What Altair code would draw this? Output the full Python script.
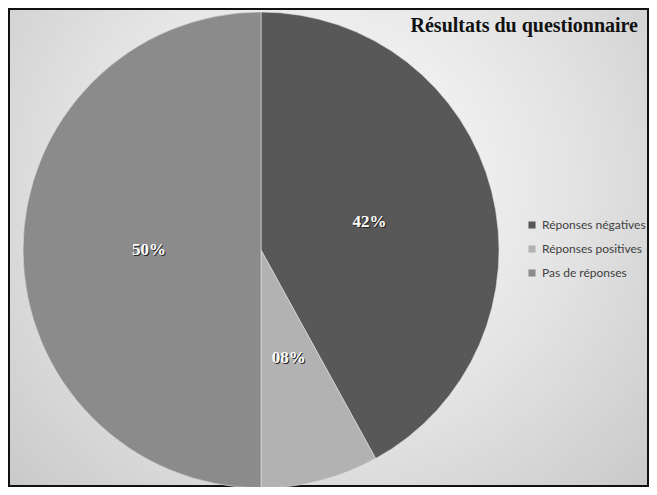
import altair as alt
import pandas as pd

categories = ["Réponses négatives", "Réponses positives", "Pas de réponses"]
values = [42, 8, 50]
labels = ["42%", "08%", "50%"]
order = [1, 2, 3]
colors = ["#585858", "#b2b2b2", "#8b8b8b"]
title_text = "Résultats du questionnaire"

df = pd.DataFrame({"cat": categories, "val": values, "lab": labels, "ord": order})

W, H = 641, 479
CX, CY = 253, 242
R = 238

bg = alt.Chart(pd.DataFrame({"a": [0]})).mark_rect(
    color=alt.Gradient(
        gradient="radial",
        stops=[alt.GradientStop(color="#ffffff", offset=0),
               alt.GradientStop(color="#e4e4e4", offset=0.5),
               alt.GradientStop(color="#c4c4c4", offset=1)],
        x1=0.5, y1=0.4, r1=0, x2=0.5, y2=0.4, r2=0.75,
    ),
    stroke="#111111", strokeWidth=2,
).encode(x=alt.value(1), x2=alt.value(W - 1), y=alt.value(1), y2=alt.value(H - 1))

base = alt.Chart(df).encode(
    theta=alt.Theta("val:Q", stack=True),
    order=alt.Order("ord:Q"),
)

arcs = base.mark_arc(outerRadius=R, stroke="#e0e0e0", strokeWidth=0.6).encode(
    color=alt.Color(
        "cat:N",
        scale=alt.Scale(domain=categories, range=colors),
        sort=categories,
        legend=alt.Legend(
            title=None, orient="none", legendX=518, legendY=211,
            symbolType="square", symbolSize=50, symbolStrokeWidth=0,
            labelFont="Lato", labelFontSize=12, labelColor="#404040",
            rowPadding=12, labelOffset=4,
        ),
    ),
    x=alt.value(CX), y=alt.value(CY),
)

shadow = base.mark_text(radius=112, font="Liberation Serif", fontWeight="bold",
                        fontSize=17, color="#222222", dx=1, dy=1).encode(
    text="lab:N", x=alt.value(CX), y=alt.value(CY))
txt = base.mark_text(radius=112, font="Liberation Serif", fontWeight="bold",
                     fontSize=17, color="#ffffff").encode(
    text="lab:N", x=alt.value(CX), y=alt.value(CY))

title = alt.Chart(pd.DataFrame({"t": [title_text]})).mark_text(
    font="Liberation Serif", fontWeight="bold", fontSize=20, color="#111111",
    align="right", baseline="alphabetic",
).encode(text="t:N", x=alt.value(630), y=alt.value(24))

chart = alt.layer(bg, arcs, shadow, txt, title).properties(
    width=W, height=H,
    autosize=alt.AutoSizeParams(type="none"),
    padding=0,
).configure_view(strokeWidth=0)

chart.save("out.html", embed_options={"renderer": "svg", "actions": False})
